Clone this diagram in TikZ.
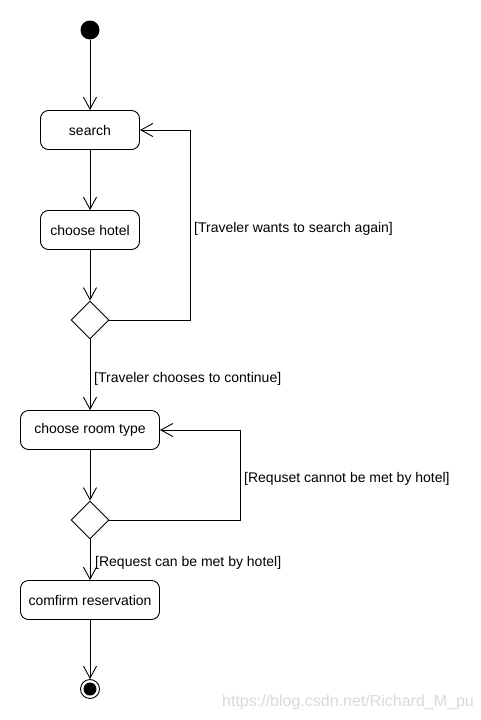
\documentclass[tikz,border=0pt]{standalone}
\usepackage{fontspec}
\setmainfont{Liberation Sans}
\usetikzlibrary{arrows.meta,shapes.geometric}
\tikzset{
  act/.style={draw, rounded corners=8pt, minimum height=39pt, inner sep=0pt, line width=0.9pt, font=\fontsize{14}{16}\selectfont},
  dec/.style={draw, diamond, aspect=1, minimum width=38pt, minimum height=38pt, inner sep=0pt, line width=0.9pt},
  flow/.style={draw, line width=0.9pt, -{Straight Barb[length=12pt,width=13pt,line width=0.9pt]}},
  guard/.style={anchor=west, inner sep=0pt, font=\fontsize{14}{16}\selectfont},
}
\begin{document}
\begin{tikzpicture}[x=1pt,y=-1pt]
\useasboundingbox (0,0) rectangle (480,720);
\node[circle, fill=black, minimum size=19pt, inner sep=0pt] (start) at (90,30) {};
\node[act, minimum width=99pt] (search) at (90,130) {search};
\node[act, minimum width=99pt] (hotel) at (90,230) {choose hotel};
\node[dec] (d1) at (90,320) {};
\node[act, minimum width=139pt] (room) at (90,430) {choose room type};
\node[dec] (d2) at (90,520) {};
\node[act, minimum width=139pt] (confirm) at (90,600) {comfirm reservation};
\node[circle, draw, line width=0.9pt, minimum size=19pt, inner sep=0pt] (end) at (90,689) {};
\fill (end.center) circle (6.5pt);
\coordinate (c1) at (190,130);
\coordinate (c2) at (240,430);

\draw[flow] (start) -- (search);
\draw[flow] (search) -- (hotel);
\draw[flow] (hotel) -- (d1);
\draw[flow] (d1.south) -- (room);
\draw[flow] (d1.east) -| (c1) -- (search.east);
\draw[flow] (room) -- (d2.north);
\draw[flow] (d2.east) -| (c2) -- (room.east);
\draw[flow] (d2.south) -- (confirm);
\draw[flow] (confirm) -- (end);

\node[guard] (g1) at (194,229) {[Traveler wants to search again]};
\node[guard] (g2) at (94,379) {[Traveler chooses to continue]};
\node[guard] (g3) at (244,479) {[Requset cannot be met by hotel]};
\node[guard] (g4) at (95,563) {[Request can be met by hotel]};
\node[anchor=west, inner sep=0pt, text=black!15, font=\fontsize{16}{18}\selectfont] (wm) at (222,702) {https://blog.csdn.net/Richard\_M\_pu};
\end{tikzpicture}
\end{document}
